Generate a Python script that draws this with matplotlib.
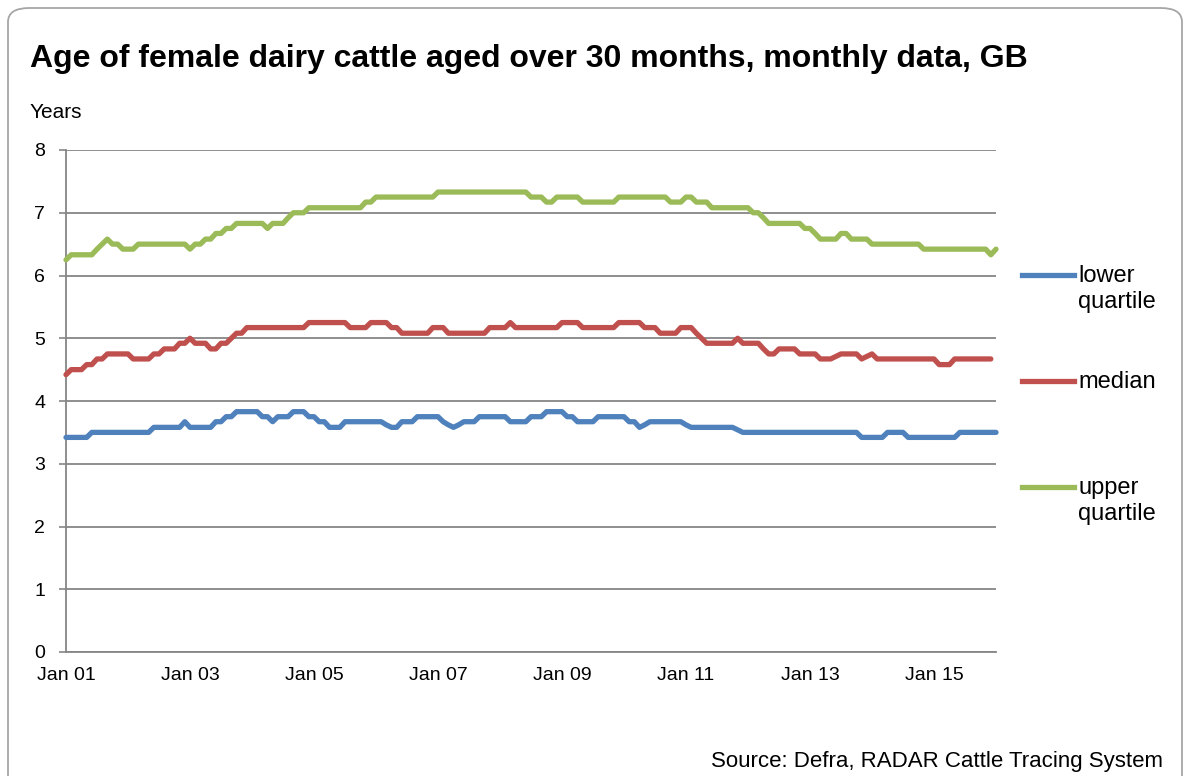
import matplotlib
matplotlib.use("Agg")
import matplotlib.pyplot as plt
import numpy as np
import pandas as pd
from matplotlib.patches import FancyBboxPatch
from matplotlib.lines import Line2D

plt.rcParams['font.family'] = ['Liberation Sans', 'DejaVu Sans']

# ---- data (monthly, Jan 2001 .. Jan 2016) ----
dates = pd.date_range("2001-01-01", "2016-01-01", freq="MS")

lower_quartile = (
    [3.42] * 5 + [3.50] * 12 + [3.58] * 6 + [3.67] + [3.58] * 5 + [3.67] * 2 + [3.75] * 2
    + [3.83] * 5 + [3.75] * 2 + [3.67] + [3.75] * 3 + [3.83] * 3
    + [3.75] * 2 + [3.67] * 2 + [3.58] * 3 + [3.67] * 8 + [3.62] + [3.58] * 2 + [3.67] * 3
    + [3.75] * 5 + [3.67] + [3.62] + [3.58] + [3.62] + [3.67] * 3 + [3.75] * 6 + [3.67] * 4
    + [3.75] * 3 + [3.83] * 4 + [3.75] * 2 + [3.67] * 4 + [3.75] * 6 + [3.67] * 2 + [3.58]
    + [3.62] + [3.67] * 7 + [3.62] + [3.58] * 9 + [3.54] + [3.50] * 6
    + [3.50] * 17 + [3.42] * 5 + [3.50] * 4 + [3.42] * 10 + [3.50] * 8
)

median = (
    [4.42] + [4.50] * 3 + [4.58] * 2 + [4.67] * 2 + [4.75] * 5 + [4.67] * 4 + [4.75] * 2
    + [4.83] * 3 + [4.92] * 2 + [5.00] + [4.92] * 3 + [4.83] * 2 + [4.92] * 2 + [5.00]
    + [5.08] * 2 + [5.17] * 12 + [5.25] * 8 + [5.17] * 4 + [5.25] * 4 + [5.17] * 2
    + [5.08] * 6 + [5.17] * 3 + [5.08] * 8 + [5.17] * 3 + [5.17] + [5.25] + [5.17] * 9
    + [5.25] * 4 + [5.17] * 7 + [5.25] * 5 + [5.17] * 3 + [5.08] * 4 + [5.17] * 3 + [5.08]
    + [5.00] + [4.92] * 6 + [5.00] + [4.92] * 4 + [4.83] + [4.75] * 2 + [4.83] * 4
    + [4.75] * 4 + [4.67] * 3 + [4.71] + [4.75] * 4 + [4.67] + [4.71] + [4.75] + [4.67] * 12
    + [4.58] * 3 + [4.67] * 8
)

upper_quartile = (
    [6.25] + [6.33] * 5 + [6.42] + [6.50] + [6.58] + [6.50] * 2 + [6.42] * 3 + [6.50] * 10
    + [6.42] + [6.50] * 2 + [6.58] * 2 + [6.67] * 2 + [6.75] * 2 + [6.83] * 6 + [6.75]
    + [6.83] * 3 + [6.92] + [7.00] * 3 + [7.08] * 11 + [7.17] * 2 + [7.25] * 12 + [7.33] * 18
    + [7.25] * 3 + [7.17] * 2 + [7.25] * 5 + [7.17] * 7 + [7.25] * 10 + [7.17] * 3
    + [7.25] * 2 + [7.17] * 3 + [7.08] * 8 + [7.00] * 2 + [6.92] + [6.83] * 7 + [6.75] * 2
    + [6.67] + [6.58] * 4 + [6.67] * 2 + [6.58] * 4 + [6.50] * 10 + [6.42] * 13 + [6.33]
    + [6.42]
)

series_names = ["lower\nquartile", "median", "upper\nquartile"]
series_colors = ["#4F81BD", "#C0504D", "#9BBB59"]
series_values = [lower_quartile, median, upper_quartile]

y_ticks = [0, 1, 2, 3, 4, 5, 6, 7, 8]
x_tick_years = [2001, 2003, 2005, 2007, 2009, 2011, 2013, 2015]
x_tick_labels = ["Jan 01", "Jan 03", "Jan 05", "Jan 07", "Jan 09", "Jan 11", "Jan 13", "Jan 15"]

W, H = 1184, 776
fig = plt.figure(figsize=(W / 100, H / 100), dpi=100)

# outer rounded border
border = FancyBboxPatch((8 / W, -0.05), (1182 - 8) / W, (H - 8) / H + 0.05,
                        boxstyle="round,pad=0,rounding_size=0.018",
                        transform=fig.transFigure, fill=False,
                        edgecolor="#A6A6A6", linewidth=1.3)
fig.add_artist(border)

ax = fig.add_axes([66 / W, 1 - 652 / H, (996 - 66) / W, (652 - 150) / H])

x_num = np.arange(len(dates))
for vals, col in zip(series_values, series_colors):
    ax.plot(x_num[:len(vals)], vals, color=col, linewidth=3.8,
            solid_joinstyle="round", solid_capstyle="round", clip_on=False, zorder=3)

ax.set_xlim(0, len(dates) - 1)
ax.set_ylim(0, 8)
ax.set_yticks(y_ticks)
ax.set_yticklabels([str(t) for t in y_ticks])
tick_pos = [(y - 2001) * 12 for y in x_tick_years]
ax.set_xticks(tick_pos)
ax.set_xticklabels(x_tick_labels)
ax.tick_params(axis="both", labelsize=14, labelcolor="#000000", length=5, width=1.2,
               color="#868686")
ax.tick_params(axis="x", length=0, pad=11)
ax.tick_params(axis="y", pad=10)

ax.grid(axis="y", color="#868686", linewidth=1.3)
ax.set_axisbelow(True)
for s in ["top", "right"]:
    ax.spines[s].set_visible(False)
for s in ["left", "bottom"]:
    ax.spines[s].set_color("#868686")
    ax.spines[s].set_linewidth(1.3)

# title and labels
fig.text(30 / W, 1 - 59 / H, "Age of female dairy cattle aged over 30 months, monthly data, GB",
         fontsize=23, fontweight="bold", ha="left", va="center")
fig.text(30 / W, 1 - 112 / H, "Years", fontsize=15, ha="left", va="center")
fig.text(1163 / W, 1 - 762 / H, "Source: Defra, RADAR Cattle Tracing System",
         fontsize=16, ha="right", va="center")

# legend
legend_y = [275, 381, 487]
for name, col, ly in zip(series_names, series_colors, legend_y):
    fig.add_artist(Line2D([1022 / W, 1074 / W], [1 - ly / H, 1 - ly / H],
                          color=col, linewidth=3.8, transform=fig.transFigure))
    fig.text(1078 / W, 1 - (ly - 10) / H, name, fontsize=17, ha="left", va="top",
             linespacing=1.22)

fig.savefig("out.png", dpi=100)
